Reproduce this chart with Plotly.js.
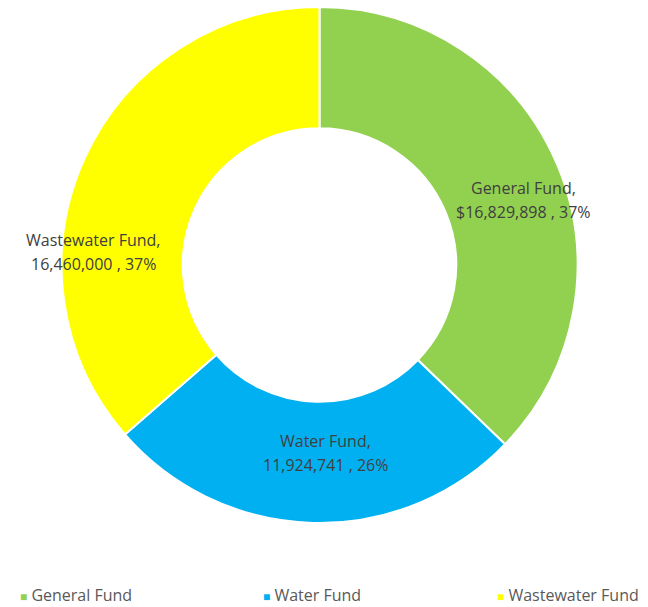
<!DOCTYPE html>
<html>
<head>
<meta charset="utf-8">
<script src="https://cdn.plot.ly/plotly-3.0.1.min.js"></script>
<style>html,body{margin:0;padding:0;background:#fff;}</style>
</head>
<body>
<div id="chart" style="width:648px;height:607px;"></div>
<script>
const categories = ["General Fund", "Water Fund", "Wastewater Fund"];
const values = [16829898, 11924741, 16460000];
const valueLabels = ["$16,829,898", "11,924,741", "16,460,000"];
const percentLabels = ["37%", "26%", "37%"];
const colors = ["#92D050", "#00B0F0", "#FFFF00"];

// label anchor positions (paper coordinates) and legend key positions
const labelX = [0.820, 0.510, 0.1463];
const labelY = [0.626, 0.1357, 0.525];
const legendX = [20, 263, 497];

const FONT = "'Open Sans', Lato, sans-serif";

const data = [{
  type: "pie",
  labels: categories,
  values: values,
  textinfo: "none",
  hole: 0.53,
  sort: false,
  direction: "clockwise",
  rotation: 0,
  marker: {colors: colors, line: {color: "#ffffff", width: 2}},
  hoverinfo: "label+value+percent"
}];

const annotations = [];
categories.forEach((c, i) => {
  annotations.push({
    xref: "paper", yref: "paper", x: labelX[i], y: labelY[i],
    xanchor: "center", yanchor: "bottom", yshift: -1,
    text: c + ",", showarrow: false,
    font: {family: FONT, size: 16, color: "#404040"}
  });
  annotations.push({
    xref: "paper", yref: "paper", x: labelX[i], y: labelY[i],
    xanchor: "center", yanchor: "top", yshift: 1,
    text: valueLabels[i] + " , " + percentLabels[i], showarrow: false,
    font: {family: FONT, size: 16, color: "#404040"}
  });
  annotations.push({
    xref: "paper", yref: "paper", x: legendX[i] / 639, y: -0.1395,
    xanchor: "left", yanchor: "middle", xshift: -2,
    text: '<span style="color:' + colors[i] + ';font-size:12px">■</span> ' + c,
    showarrow: false,
    font: {family: FONT, size: 16, color: "#595959"}
  });
});

const layout = {
  width: 648,
  height: 607,
  margin: {l: 0, r: 9, t: 7, b: 84},
  paper_bgcolor: "#ffffff",
  showlegend: false,
  annotations: annotations
};

Plotly.newPlot("chart", data, layout, {displayModeBar: false, staticPlot: true});
</script>
</body>
</html>
